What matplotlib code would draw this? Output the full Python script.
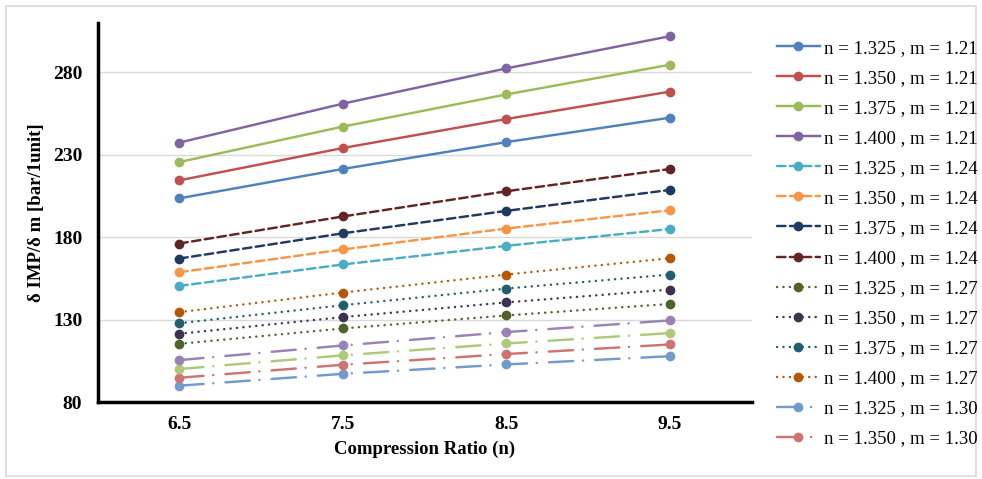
import matplotlib
matplotlib.use("Agg")
import matplotlib.pyplot as plt
from matplotlib.patches import Rectangle

# compression ratio categories
ratios = ["6.5", "7.5", "8.5", "9.5"]

# m = 1.21
n1325_m121 = [203.7, 221.5, 237.8, 252.6]
n1350_m121 = [214.6, 234.2, 251.8, 268.4]
n1375_m121 = [225.7, 247.2, 266.7, 284.7]
n1400_m121 = [237.5, 261.1, 282.5, 302.0]
# m = 1.24
n1325_m124 = [150.6, 163.6, 174.9, 185.1]
n1350_m124 = [158.9, 172.7, 185.4, 196.5]
n1375_m124 = [167.2, 182.5, 196.1, 208.8]
n1400_m124 = [176.3, 192.7, 208.0, 221.5]
# m = 1.27
n1325_m127 = [115.5, 124.8, 132.7, 139.7]
n1350_m127 = [121.6, 131.7, 140.6, 148.4]
n1375_m127 = [128.0, 138.9, 149.0, 157.5]
n1400_m127 = [134.7, 146.6, 157.5, 167.4]
# m = 1.30
n1325_m130 = [90.1, 97.3, 103.0, 108.0]
n1350_m130 = [94.9, 102.8, 109.3, 115.1]
n1375_m130 = [100.2, 108.5, 115.7, 122.0]
n1400_m130 = [105.6, 114.5, 122.6, 129.7]

series = [
    ("n = 1.325 , m = 1.21", n1325_m121, "#4F81BD", "solid"),
    ("n = 1.350 , m = 1.21", n1350_m121, "#C0504D", "solid"),
    ("n = 1.375 , m = 1.21", n1375_m121, "#9BBB59", "solid"),
    ("n = 1.400 , m = 1.21", n1400_m121, "#8064A2", "solid"),
    ("n = 1.325 , m = 1.24", n1325_m124, "#4BACC6", "dash"),
    ("n = 1.350 , m = 1.24", n1350_m124, "#F79646", "dash"),
    ("n = 1.375 , m = 1.24", n1375_m124, "#1F3A60", "dash"),
    ("n = 1.400 , m = 1.24", n1400_m124, "#632523", "dash"),
    ("n = 1.325 , m = 1.27", n1325_m127, "#4F6228", "dot"),
    ("n = 1.350 , m = 1.27", n1350_m127, "#3F3151", "dot"),
    ("n = 1.375 , m = 1.27", n1375_m127, "#215E6E", "dot"),
    ("n = 1.400 , m = 1.27", n1400_m127, "#B65708", "dot"),
    ("n = 1.325 , m = 1.30", n1325_m130, "#729ACA", "dashdot"),
    ("n = 1.350 , m = 1.30", n1350_m130, "#CD7371", "dashdot"),
    ("n = 1.375 , m = 1.30", n1375_m130, "#AFC97A", "dashdot"),
    ("n = 1.400 , m = 1.30", n1400_m130, "#9983B5", "dashdot"),
]

styles = {
    "solid": "-",
    "dash": (0, (3.5, 1.8)),
    "dot": (0, (0.05, 2.6)),
    "dashdot": (0, (10, 4, 0.05, 5)),
}

plt.rcParams["font.family"] = ["Liberation Serif", "DejaVu Serif"]

fig = plt.figure(figsize=(9.82, 4.79), dpi=100)
fig.patches.append(Rectangle((0.006, 0.006), 0.988, 0.982, transform=fig.transFigure,
                             fill=False, edgecolor="#D9D9D9", lw=1.2))
ax = fig.add_axes([0.0993, 0.160, 0.6663, 0.792])

x = list(range(len(ratios)))
handles = []
for label, vals, col, st in series:
    h, = ax.plot(x, vals, color=col, linestyle=styles[st], lw=1.75,
                 marker="o", markersize=6, markeredgecolor=col,
                 dash_capstyle="round" if st != "solid" else "butt",
                 label=label)
    handles.append(h)

ax.set_xlim(-0.5, 3.5)
ax.set_ylim(80, 310)
ax.set_xticks(x)
ax.set_xticklabels(ratios)
ax.set_yticks([80, 130, 180, 230, 280])
ax.yaxis.grid(True, color="#D9D9D9", lw=1.0)
ax.set_axisbelow(True)
for s in ["top", "right"]:
    ax.spines[s].set_visible(False)
for s in ["left", "bottom"]:
    ax.spines[s].set_linewidth(2.5)
    ax.spines[s].set_color("black")
ax.tick_params(length=0, labelsize=14)
ax.tick_params(axis="x", pad=10)
ax.tick_params(axis="y", pad=11)
for t in ax.get_xticklabels() + ax.get_yticklabels():
    t.set_fontweight("bold")

ax.set_xlabel("Compression Ratio (n)", fontsize=13.5, fontweight="bold", labelpad=5)
ax.set_ylabel("δ IMP/δ m [bar/1unit]", fontsize=13.5, fontweight="bold", labelpad=6)

# only 14 entries fit in the legend box
fig.legend(handles=handles[:14], loc="upper left", bbox_to_anchor=(0.791, 0.9175),
           frameon=False, fontsize=13.5, handlelength=2.3, handletextpad=0.2,
           labelspacing=0.69, borderaxespad=0, borderpad=0)

fig.savefig("out.png", dpi=100)
